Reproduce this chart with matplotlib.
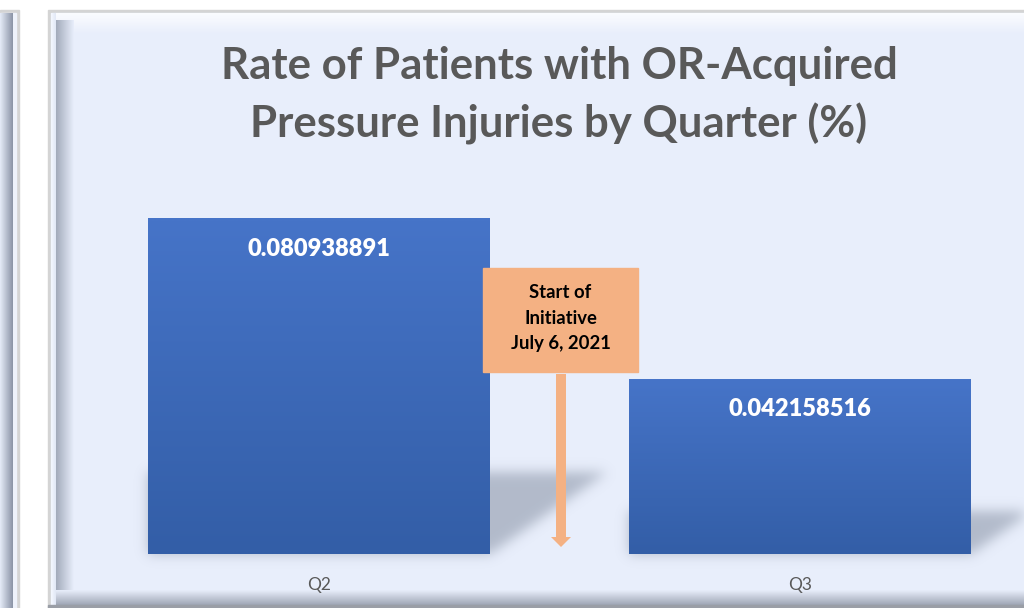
import numpy as np
import matplotlib.pyplot as plt
from matplotlib.patches import Rectangle, FancyArrow
from matplotlib.colors import to_rgb

# data
quarters = ['Q2', 'Q3']
rates = [0.080938891, 0.042158516]
value_labels = ['0.080938891', '0.042158516']
title = 'Rate of Patients with OR-Acquired\nPressure Injuries by Quarter (%)'
note = 'Start of\nInitiative\nJuly 6, 2021'

W, H = 1024, 608
panel_bg = '#e8eefb'
text_gray = '#595959'
bar_top = '#4674c8'
bar_bot = '#335ea7'
orange = '#f4b183'

fig = plt.figure(figsize=(W / 100, H / 100), dpi=100)
fig.patch.set_facecolor('white')

# background axes in pixel coords (y down)
bg = fig.add_axes([0, 0, 1, 1])
bg.set_xlim(0, W)
bg.set_ylim(H, 0)
bg.axis('off')


def vgrad(ax, x0, x1, y0, y1, c0, c1, horiz=False, z=1):
    # linear gradient from c0 to c1 (top->bottom or left->right)
    c0, c1 = np.array(to_rgb(c0)), np.array(to_rgb(c1))
    t = np.linspace(0, 1, 64)
    g = c0[None, :] * (1 - t[:, None]) + c1[None, :] * t[:, None]
    img = g[None, :, :] if horiz else g[:, None, :]
    ax.imshow(img, extent=(x0, x1, y1, y0), aspect='auto', zorder=z,
              interpolation='bilinear')


# left partial panel
bg.add_patch(Rectangle((0, 10), 19, H, color='#d4d4d4', zorder=1))
bg.add_patch(Rectangle((0, 13), 16, H, color='#eef2fb', zorder=1))
vgrad(bg, 0, 13, 13, H, '#e6ecf8', '#8a93a6', horiz=True, z=2)

# main panel frame + bevels
bg.add_patch(Rectangle((48, 10), W, H, color='#d4d4d4', zorder=1))
bg.add_patch(Rectangle((51, 13), W, H, color=panel_bg, zorder=1))
vgrad(bg, 51, W, 13, 34, '#fbfcff', panel_bg, z=2)
vgrad(bg, 51, 56, 13, 606, '#f5f8ff', '#e1e8f6', horiz=True, z=3)
vgrad(bg, 56, 74, 20, 594, '#a3abbb', panel_bg, horiz=True, z=3)
vgrad(bg, 56, W, 590, 606, panel_bg, '#9aa1b0', z=4)
bg.add_patch(Rectangle((48, 605), W, 4, color='#9a9ea6', zorder=5))

# chart axes
ax = fig.add_axes([78.5 / W, 54 / H, 962 / W, 0.613])
ax.set_xlim(-0.5, 1.5)
ax.set_ylim(0, 0.09)
ax.axis('off')

width = 0.711
xs = np.arange(len(quarters))
fig.canvas.draw()

# blurred shadows behind bars, computed in pixel space
yy, xx = np.mgrid[0:H, 0:W] + 0.5
mask = np.zeros((H, W))
for x, r in zip(xs, rates):
    (px0, pyb), (px1, pyt) = ax.transData.transform([(x - width / 2, 0), (x + width / 2, r)])
    pyb, pyt = H - pyb, H - pyt
    hpx = pyb - pyt
    dx, dy = 0.35 * hpx, 0.245 * hpx
    top = pyb - dy
    inside = (yy >= top) & (yy <= pyb) & (xx >= px0) & (xx <= px1 + (pyb - yy) / dy * dx)
    mask[inside] = 1.0
k = np.exp(-0.5 * (np.arange(-20, 21) / 6.0) ** 2)
k /= k.sum()
mask = np.apply_along_axis(lambda v: np.convolve(v, k, mode='same'), 0, mask)
mask = np.apply_along_axis(lambda v: np.convolve(v, k, mode='same'), 1, mask)
shadow = np.zeros((H, W, 4))
shadow[..., :3] = to_rgb('#8e98aa')
shadow[..., 3] = np.clip(mask, 0, 1) * 0.6
bg.imshow(shadow, extent=(0, W, H, 0), aspect='auto', zorder=6, interpolation='bilinear')
bg.set_xlim(0, W)
bg.set_ylim(H, 0)

# bars with vertical gradient
for x, r, lab in zip(xs, rates, value_labels):
    x0, x1 = x - width / 2, x + width / 2
    vgrad(ax, x0, x1, r, 0, bar_top, bar_bot, z=2)
    ax.annotate(lab, (x, r), xytext=(0, -30), textcoords='offset pixels',
                ha='center', va='center', color='white', fontsize=17,
                fontweight='heavy', family='Lato', zorder=5)
ax.set_xlim(-0.5, 1.5)
ax.set_ylim(0, 0.09)

for x, q in zip(xs, quarters):
    ax.annotate(q, (x, 0), xytext=(0, -31), textcoords='offset pixels',
                ha='center', va='center', color=text_gray, fontsize=12.5,
                family='Lato', annotation_clip=False)

# overlay for title and initiative note (pixel coords)
top = fig.add_axes([0, 0, 1, 1])
top.set_xlim(0, W)
top.set_ylim(H, 0)
top.axis('off')

top.text(559, 95.5, title, ha='center', va='center', color=text_gray,
         fontsize=31.5, fontweight='bold', family='Lato', linespacing=1.48)

top.add_patch(Rectangle((483, 268), 155, 104, color=orange, zorder=7))
top.text(560.5, 318, note, ha='center', va='center', fontsize=13.3,
         fontweight='bold', family='Lato', color='black', linespacing=1.64, zorder=8)
top.add_patch(FancyArrow(561, 374, 0, 173, width=10, head_width=20, head_length=10,
                         length_includes_head=True, color=orange, zorder=7, lw=0))

fig.savefig('out.png', dpi=100)
